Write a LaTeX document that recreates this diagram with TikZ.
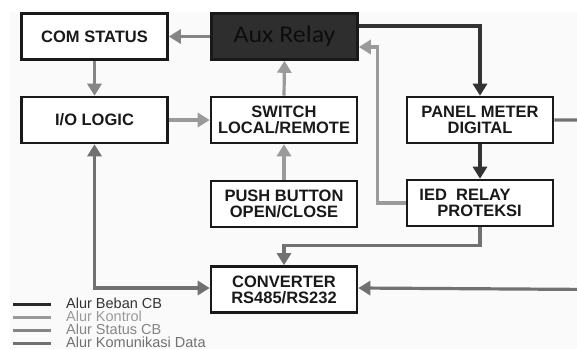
\documentclass[tikz,border=0pt]{standalone}
\usepackage{fontspec}
\setmainfont{Liberation Sans}
\newfontfamily\auxfont{Carlito}
\usetikzlibrary{arrows.meta,calc}
\definecolor{cbeban}{HTML}{333333}
\definecolor{ckontrol}{HTML}{9A9A9A}
\definecolor{cstatus}{HTML}{858585}
\definecolor{ckom}{HTML}{717171}
\definecolor{auxfill}{HTML}{2E2E2E}
\tikzset{
  blk/.style={draw=black!90, line width=2.6pt, fill=white, minimum width=146pt, minimum height=46pt,
    align=center, inner sep=0pt, font=\fontsize{16.5}{16}\selectfont\bfseries, text=black!90},
  conn/.style={line width=3.2pt, -{Triangle[width=14pt,length=12pt]}},
  legline/.style={line width=3pt},
  legtext/.style={anchor=west, inner sep=0pt, font=\fontsize{14.5}{14.5}\selectfont}
}
\begin{document}
\begin{tikzpicture}[x=1pt,y=-1pt]
\useasboundingbox (0,0) rectangle (577,349);
\clip (0,0) rectangle (577,349);
\fill[white] (0,0) rectangle (577,349);
\fill[black!2] (10,12) rectangle (577,349);
% boxes
\node[blk] (com) at (94.5,36.5) {COM STATUS};
\node[blk, fill=auxfill, text=black!95, font=\fontsize{24}{24}\selectfont\auxfont] (aux) at (284.5,36.5) {\scalebox{1.08}[1]{Aux Relay}};
\node[blk] (io) at (94.5,120) {I/O LOGIC};
\node[blk] (sw) at (284,120) {SWITCH\\LOCAL/REMOTE};
\node[blk] (pm) at (480,120) {PANEL METER\\DIGITAL};
\node[blk] (pb) at (284,204) {PUSH BUTTON\\OPEN/CLOSE};
\node[blk, align=left] (ied) at (480,203) {IED~~RELAY\hspace*{30pt}\\\hspace*{18pt}PROTEKSI\hspace*{18pt}};
\node[blk] (conv) at (284,289.5) {CONVERTER\\RS485/RS232};
\coordinate (edge) at (595,0);
% connectors
\draw[conn, cstatus] (aux.west) -- (com.east);
\draw[conn, cstatus] (com.south) -- (io.north);
\draw[conn, ckontrol] (io.east) -- (sw.west);
\draw[conn, ckontrol] (sw.north) -- (aux.south);
\draw[conn, ckontrol] (pb.north) -- (sw.south);
\draw[conn, cbeban] ([yshift=10.5pt]aux.east) -| (pm.north);
\draw[conn, cbeban] (pm.south) -- (ied.north);
\draw[conn, ckontrol] (ied.west) -- ++(-28,0) |- ([yshift=-10.5pt]aux.east);
\draw[conn, ckom] (ied.south) -- ++(0,18) -| (conv.north);
\draw[conn, ckom, {Triangle[width=14pt,length=12pt]}-{Triangle[width=14pt,length=12pt]}] (io.south) |- ([yshift=1.5pt]conv.west);
\draw[conn, ckom] (pm.east) -| (edge |- conv.east) -- ([yshift=1.5pt]conv.east);
% legend
\coordinate (l1a) at (13,304); \coordinate (l1b) at (51,304);
\coordinate (l2a) at (13,317); \coordinate (l2b) at (51,317);
\coordinate (l3a) at (13,330); \coordinate (l3b) at (51,330);
\coordinate (l4a) at (13,343); \coordinate (l4b) at (51,343);
\draw[legline, cbeban!80!black] (l1a) -- (l1b);
\draw[legline, ckontrol] (l2a) -- (l2b);
\draw[legline, cstatus] (l3a) -- (l3b);
\draw[legline, ckom] (l4a) -- (l4b);
\node[legtext, text=cbeban] (t1) at (66,303) {Alur Beban CB};
\node[legtext, text=ckontrol] (t2) at (66,316) {Alur Kontrol};
\node[legtext, text=cstatus] (t3) at (66,329) {Alur Status CB};
\node[legtext, text=ckom] (t4) at (66,342) {Alur Komunikasi Data};
\end{tikzpicture}
\end{document}
